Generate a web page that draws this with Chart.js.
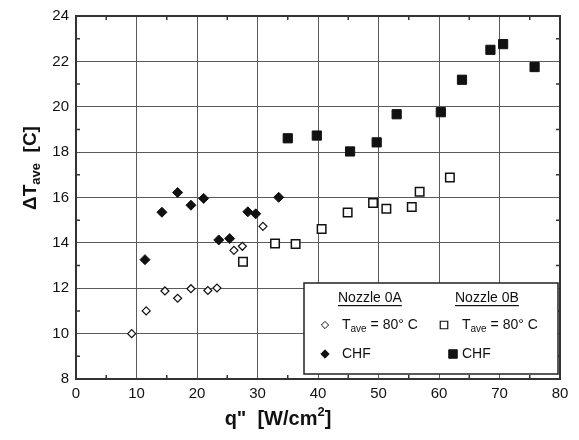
<!DOCTYPE html>
<html>
<head>
<meta charset="utf-8">
<title>Delta T ave vs heat flux</title>
<script src="https://cdn.jsdelivr.net/npm/chart.js"></script>
<style>
  html, body { margin: 0; padding: 0; background: #fff; }
  #wrap { width: 579px; height: 440px; }
</style>
</head>
<body>
<div id="wrap"><canvas id="chart" width="579" height="440"></canvas></div>
<script>
// values
const nozzleAQ = [9.2, 11.6, 14.7, 16.8, 19.0, 21.8, 23.3, 26.1, 27.5, 30.9];
const nozzleAT = [10.0, 11.0, 11.88, 11.56, 11.98, 11.9, 12.01, 13.67, 13.85, 14.73];

const nozzleAChfQ = [11.4, 14.2, 16.8, 19.0, 21.1, 23.6, 25.4, 28.4, 29.7, 33.5];
const nozzleAChfT = [13.26, 15.35, 16.22, 15.66, 15.96, 14.13, 14.19, 15.37, 15.28, 16.01];

const nozzleBQ = [27.6, 32.9, 36.3, 40.6, 44.9, 49.1, 51.3, 55.5, 56.8, 61.8];
const nozzleBT = [13.17, 13.97, 13.95, 14.61, 15.34, 15.76, 15.5, 15.58, 16.25, 16.88];

const nozzleBChfQ = [35.0, 39.8, 45.3, 49.7, 53.0, 60.3, 63.8, 68.5, 70.6, 75.8];
const nozzleBChfT = [18.61, 18.73, 18.03, 18.43, 19.67, 19.76, 21.19, 22.51, 22.76, 21.75];

const xTicks = [0, 10, 20, 30, 40, 50, 60, 70, 80];
const yTicks = [8, 10, 12, 14, 16, 18, 20, 22, 24];

const FONT = "'Liberation Sans', Arial, Helvetica, sans-serif";
const INK = "#111";

const toPoints = (xs, ys) => xs.map((x, i) => ({ x: x, y: ys[i] }));

function marker(ctx, style, x, y, r, filled, lw) {
  ctx.save();
  ctx.beginPath();
  if (style === "diamond") {
    ctx.moveTo(x - r, y);
    ctx.lineTo(x, y - r);
    ctx.lineTo(x + r, y);
    ctx.lineTo(x, y + r);
  } else {
    const h = r * Math.SQRT1_2;
    ctx.rect(x - h, y - h, 2 * h, 2 * h);
  }
  ctx.closePath();
  ctx.fillStyle = filled ? INK : "#fff";
  ctx.fill();
  ctx.lineWidth = lw;
  ctx.strokeStyle = INK;
  ctx.stroke();
  ctx.restore();
}

// text with a sub- or superscript piece
function richText(ctx, parts, x, y) {
  let cx = x;
  parts.forEach(p => {
    ctx.font = p.font;
    ctx.fillText(p.text, cx, y + (p.dy || 0));
    cx += ctx.measureText(p.text).width;
  });
  return cx;
}

function richWidth(ctx, parts) {
  let w = 0;
  parts.forEach(p => { ctx.font = p.font; w += ctx.measureText(p.text).width; });
  return w;
}

const framePlugin = {
  id: "frame",
  afterDraw(chart) {
    const ctx = chart.ctx;
    const a = chart.chartArea;
    const xs = chart.scales.x;
    const ys = chart.scales.y;

    ctx.save();
    // minor ticks, inward on all four sides
    ctx.strokeStyle = "#333";
    ctx.lineWidth = 1.5;
    ctx.beginPath();
    for (let v = xs.min + 5; v < xs.max; v += 10) {
      const px = xs.getPixelForValue(v);
      ctx.moveTo(px, a.bottom); ctx.lineTo(px, a.bottom - 4);
      ctx.moveTo(px, a.top); ctx.lineTo(px, a.top + 4);
    }
    for (let v = ys.min + 1; v < ys.max; v += 2) {
      const py = ys.getPixelForValue(v);
      ctx.moveTo(a.left, py); ctx.lineTo(a.left + 4, py);
      ctx.moveTo(a.right, py); ctx.lineTo(a.right - 4, py);
    }
    ctx.stroke();

    // frame
    ctx.lineWidth = 2;
    ctx.strokeRect(a.left, a.top, a.right - a.left, a.bottom - a.top);

    // axis titles
    ctx.fillStyle = INK;
    ctx.textBaseline = "middle";
    ctx.textAlign = "left";
    const xTitle = [
      { text: "q\"  [W/cm", font: "bold 20px " + FONT },
      { text: "2", font: "bold 13px " + FONT, dy: -7 },
      { text: "]", font: "bold 20px " + FONT }
    ];
    richText(ctx, xTitle, 278 - richWidth(ctx, xTitle) / 2, 419);

    const yTitle = [
      { text: "\u0394T", font: "bold 19px " + FONT },
      { text: "ave", font: "bold 13px " + FONT, dy: 5 },
      { text: "  [C]", font: "bold 19px " + FONT }
    ];
    ctx.save();
    ctx.translate(31, 168);
    ctx.rotate(-Math.PI / 2);
    richText(ctx, yTitle, -richWidth(ctx, yTitle) / 2, 0);
    ctx.restore();

    // legend box
    const bx = 304, by = 283, bw = 254, bh = 91;
    ctx.fillStyle = "#fff";
    ctx.fillRect(bx, by, bw, bh);
    ctx.strokeStyle = "#222";
    ctx.lineWidth = 1.5;
    ctx.strokeRect(bx, by, bw, bh);

    ctx.fillStyle = INK;
    ctx.font = "14px " + FONT;
    [["Nozzle 0A", 338], ["Nozzle 0B", 455]].forEach(([t, x]) => {
      ctx.fillText(t, x, 298);
      const w = ctx.measureText(t).width;
      ctx.fillRect(x, 305, w, 1.2);
    });

    const tave = [
      { text: "T", font: "14px " + FONT },
      { text: "ave", font: "10px " + FONT, dy: 4 },
      { text: " = 80\u00b0 C", font: "14px " + FONT }
    ];
    marker(ctx, "diamond", 325, 325, 3.6, false, 1);
    richText(ctx, tave, 342, 325);
    marker(ctx, "square", 444, 325, 5.3, false, 1.2);
    richText(ctx, tave, 462, 325);

    ctx.font = "14px " + FONT;
    marker(ctx, "diamond", 325, 354, 4.2, true, 1);
    ctx.fillText("CHF", 342, 354);
    marker(ctx, "square", 453, 354, 6, true, 1);
    ctx.fillText("CHF", 462, 354);
    ctx.restore();
  }
};

new Chart(document.getElementById("chart"), {
  type: "scatter",
  data: {
    datasets: [
      {
        label: "Nozzle 0A Tave = 80 C",
        data: toPoints(nozzleAQ, nozzleAT),
        pointStyle: "rectRot",
        pointRadius: 4,
        borderWidth: 1.2,
        borderColor: INK,
        backgroundColor: "#fff"
      },
      {
        label: "Nozzle 0A CHF",
        data: toPoints(nozzleAChfQ, nozzleAChfT),
        pointStyle: "rectRot",
        pointRadius: 5,
        borderWidth: 1,
        borderColor: INK,
        backgroundColor: INK
      },
      {
        label: "Nozzle 0B Tave = 80 C",
        data: toPoints(nozzleBQ, nozzleBT),
        pointStyle: "rect",
        pointRadius: 6,
        borderWidth: 1.5,
        borderColor: INK,
        backgroundColor: "#fff"
      },
      {
        label: "Nozzle 0B CHF",
        data: toPoints(nozzleBChfQ, nozzleBChfT),
        pointStyle: "rect",
        pointRadius: 6.5,
        borderWidth: 1,
        borderColor: INK,
        backgroundColor: INK
      }
    ]
  },
  options: {
    responsive: false,
    animation: false,
    layout: { padding: { top: 15, right: 19, left: 0, bottom: 0 } },
    plugins: { legend: { display: false }, tooltip: { enabled: false } },
    scales: {
      x: {
        type: "linear",
        min: xTicks[0],
        max: xTicks[xTicks.length - 1],
        afterBuildTicks: s => { s.ticks = xTicks.map(v => ({ value: v })); },
        afterFit: s => { s.height = 61; },
        grid: { color: "#5a5a5a", lineWidth: 1, drawTicks: false },
        border: { display: false },
        ticks: { color: INK, padding: 6, font: { family: FONT, size: 15 } },
        title: { display: false }
      },
      y: {
        type: "linear",
        min: yTicks[0],
        max: yTicks[yTicks.length - 1],
        afterBuildTicks: s => { s.ticks = yTicks.map(v => ({ value: v })); },
        afterFit: s => { s.width = 76; },
        grid: { color: "#5a5a5a", lineWidth: 1, drawTicks: false },
        border: { display: false },
        ticks: { color: INK, padding: 7, font: { family: FONT, size: 15 } },
        title: { display: false }
      }
    }
  },
  plugins: [framePlugin]
});
</script>
</body>
</html>
